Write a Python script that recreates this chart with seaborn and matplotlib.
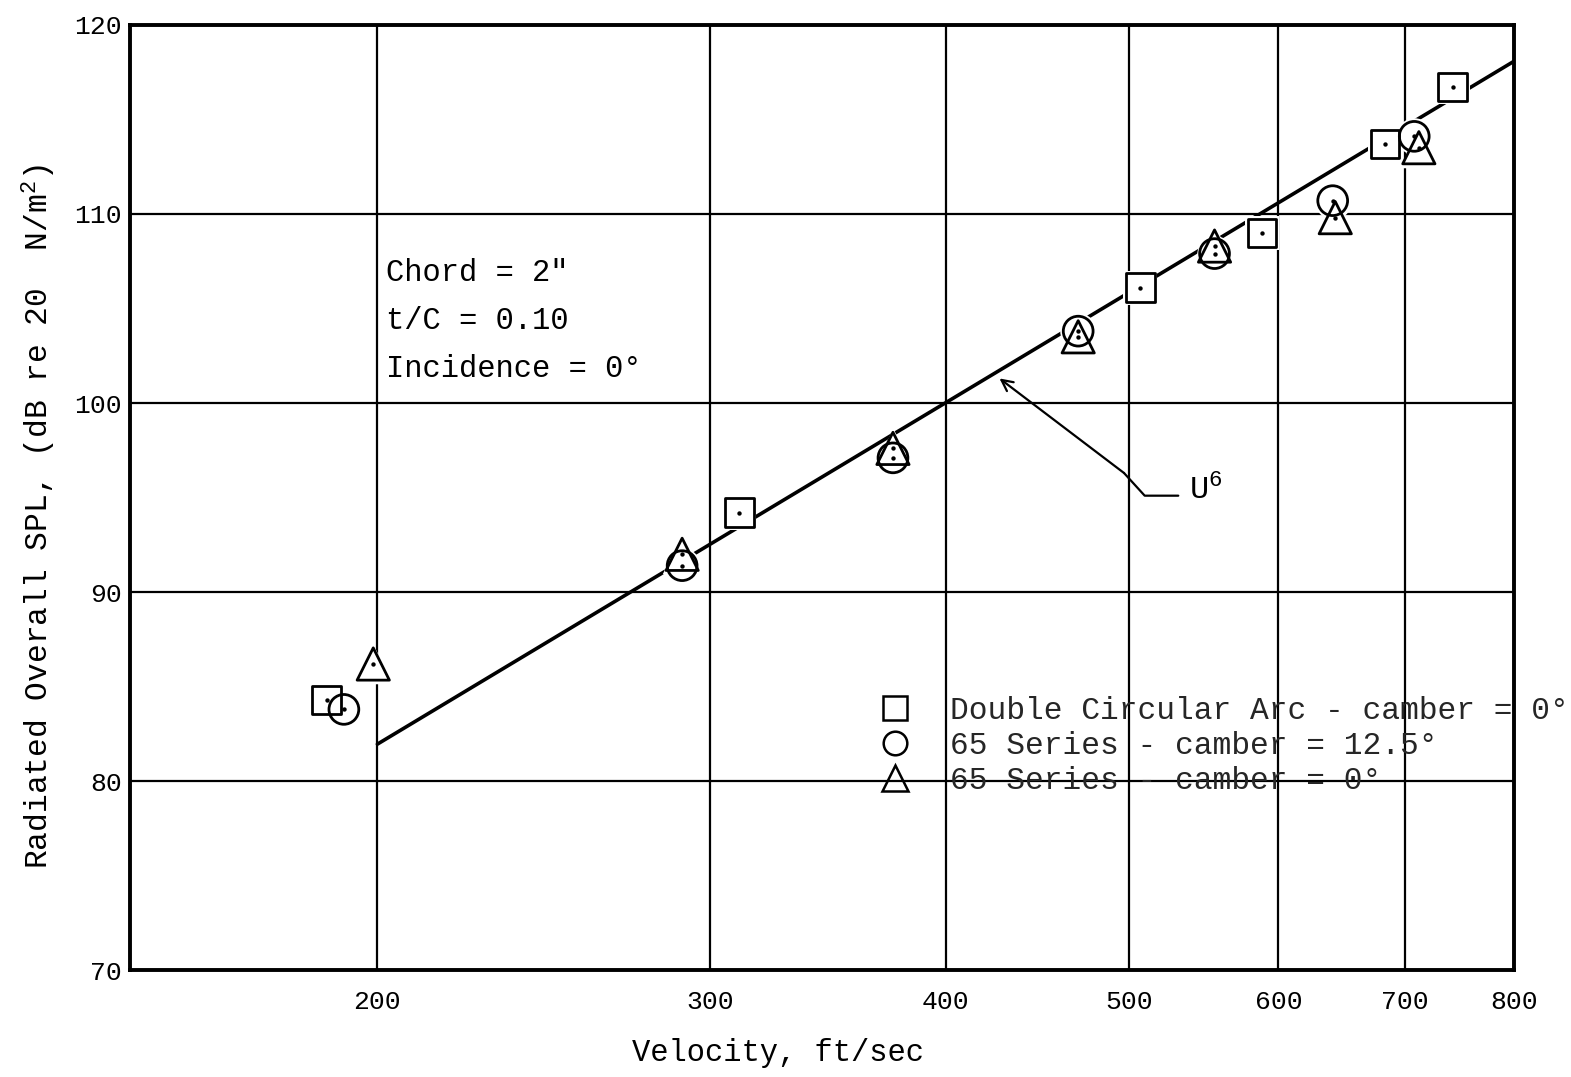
import numpy as np
import pandas as pd
import matplotlib
matplotlib.use("Agg")
import matplotlib.pyplot as plt
from matplotlib.lines import Line2D
from matplotlib.ticker import NullLocator, FixedLocator, FixedFormatter
import seaborn as sns

# Measured overall SPL versus velocity for three blade sections
dca_velocity = [188, 311, 507, 588, 683, 742]
dca_spl = [84.3, 94.2, 106.1, 109.0, 113.7, 116.7]

s65_c125_velocity = [192, 290, 375, 470, 555, 641, 708]
s65_c125_spl = [83.8, 91.4, 97.1, 103.8, 107.9, 110.7, 114.1]

s65_c0_velocity = [199, 290, 375, 470, 555, 643, 712]
s65_c0_spl = [86.2, 92.0, 97.6, 103.5, 108.3, 109.8, 113.5]

# U^6 scaling line: SPL = 60 log10(U) + const
u6_velocity = [200, 800]
u6_const = -56.1

x_ticks = [200, 300, 400, 500, 600, 700, 800]
y_ticks = [70, 80, 90, 100, 110, 120]

series_labels = [
    "Double Circular Arc - camber = 0°",
    "65 Series - camber = 12.5°",
    "65 Series - camber = 0°",
]
notes = ['Chord = 2"', "t/C = 0.10", "Incidence = 0°"]

sns.set_theme(style="white")
plt.rcParams["font.family"] = ["Liberation Mono", "DejaVu Sans Mono"]
plt.rcParams["mathtext.fontset"] = "custom"
plt.rcParams["mathtext.rm"] = "Liberation Mono"

fig = plt.figure(figsize=(15.71, 10.77), dpi=100)
ax = fig.add_axes([0.083, 0.099, 0.881, 0.878])
ax.set_xscale("log")
ax.set_xlim(148, 800)
ax.set_ylim(70, 120)

# grid
for xv in x_ticks:
    ax.axvline(xv, color="black", lw=1.6, zorder=1)
for yv in y_ticks:
    ax.axhline(yv, color="black", lw=1.6, zorder=1)

# U^6 line
u6 = pd.DataFrame({"U": u6_velocity})
u6["SPL"] = 60 * np.log10(u6["U"]) + u6_const
sns.lineplot(data=u6, x="U", y="SPL", ax=ax, color="black", lw=2.6, zorder=2)

series = [
    (dca_velocity, dca_spl, "s", 420),
    (s65_c125_velocity, s65_c125_spl, "o", 460),
    (s65_c0_velocity, s65_c0_spl, "^", 540),
]

# white backing so the line breaks around each symbol
for xs, ys, mk, size in series:
    sns.scatterplot(x=xs, y=ys, ax=ax, marker=mk, s=size * 1.5, color="white",
                    linewidth=0, zorder=3)
for xs, ys, mk, size in series:
    sns.scatterplot(x=xs, y=ys, ax=ax, marker=mk, s=size, facecolors="none",
                    edgecolors="black", linewidth=2.0, zorder=4)
    sns.scatterplot(x=xs, y=ys, ax=ax, marker="o", s=10, color="black",
                    linewidth=0, zorder=5)

# axes frame and ticks
for sp in ax.spines.values():
    sp.set_color("black")
    sp.set_linewidth(2.8)
ax.xaxis.set_major_locator(FixedLocator(x_ticks))
ax.xaxis.set_major_formatter(FixedFormatter([str(v) for v in x_ticks]))
ax.xaxis.set_minor_locator(NullLocator())
ax.set_yticks(y_ticks)
ax.tick_params(axis="both", length=0, labelsize=19, colors="black")
ax.tick_params(axis="x", pad=14)
ax.tick_params(axis="y", pad=6)

ax.set_xlabel("Velocity, ft/sec", fontsize=22, color="black")
ax.xaxis.set_label_coords(0.468, -0.072)
ax.set_ylabel("Radiated Overall SPL, (dB re 20  N/m$^2$)", fontsize=22.5,
              color="black")
ax.yaxis.set_label_coords(-0.052, 0.48)

# conditions text
for i, t in enumerate(notes):
    ax.text(0.185, 0.738 - i * 0.051, t, transform=ax.transAxes, fontsize=22,
            color="black", va="center", ha="left")

# U^6 annotation with leader
ax.plot([531, 509.7, 497], [95.1, 95.1, 96.3], color="black", lw=1.6, zorder=2)
ax.annotate("", xy=(427, 101.3), xytext=(497, 96.3),
            arrowprops=dict(arrowstyle="->", color="black", lw=1.6,
                            shrinkA=0, shrinkB=0, mutation_scale=20))
ax.text(538, 95.4, "U$^6$", fontsize=23, color="black", ha="left", va="center")

handles = [
    Line2D([], [], marker="s", ls="none", mfc="none", mec="black", ms=17, mew=1.8),
    Line2D([], [], marker="o", ls="none", mfc="none", mec="black", ms=17, mew=1.8),
    Line2D([], [], marker="^", ls="none", mfc="none", mec="black", ms=19, mew=1.8),
]
leg = ax.legend(handles, series_labels, loc="upper left",
                bbox_to_anchor=(0.530, 0.29), frameon=False, fontsize=22.5,
                labelspacing=0.15, handletextpad=0.75, borderaxespad=0,
                borderpad=0)
leg.set_zorder(6)

fig.savefig("out.png", dpi=100, facecolor="white")
